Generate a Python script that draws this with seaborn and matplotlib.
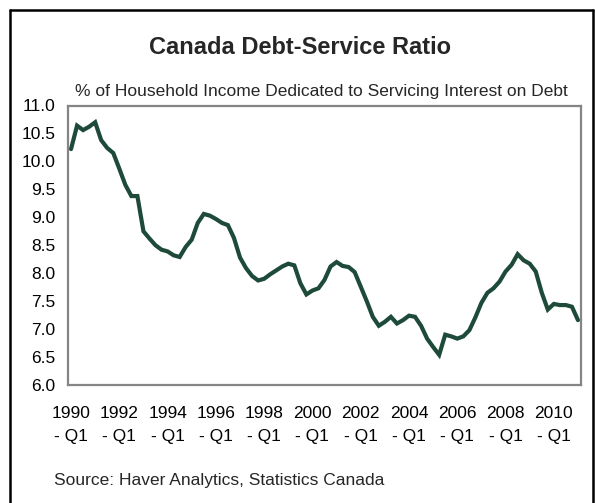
import numpy as np
import pandas as pd
import matplotlib
matplotlib.use("Agg")
import matplotlib.pyplot as plt
import seaborn as sns
from matplotlib.lines import Line2D

# ---- data -------------------------------------------------------------
years = list(range(1990, 2012))
quarters = [f"{y} Q{q}" for y in years for q in (1, 2, 3, 4)][:85]

dsr = [10.22, 10.64, 10.56, 10.62, 10.70, 10.38, 10.24, 10.15, 9.87, 9.58,
       9.38, 9.38, 8.75, 8.62, 8.50, 8.42, 8.39, 8.32, 8.29, 8.47,
       8.60, 8.90, 9.06, 9.03, 8.97, 8.90, 8.86, 8.63, 8.28, 8.09,
       7.95, 7.87, 7.90, 7.98, 8.05, 8.12, 8.17, 8.14, 7.82, 7.62,
       7.69, 7.73, 7.88, 8.12, 8.20, 8.13, 8.11, 8.02, 7.76, 7.50,
       7.22, 7.06, 7.13, 7.22, 7.10, 7.16, 7.24, 7.22, 7.06, 6.83,
       6.68, 6.54, 6.90, 6.87, 6.83, 6.87, 6.98, 7.21, 7.47, 7.65,
       7.73, 7.85, 8.03, 8.15, 8.34, 8.23, 8.17, 8.03, 7.65, 7.35,
       7.45, 7.43, 7.43, 7.40, 7.16]

tick_years = [1990, 1992, 1994, 1996, 1998, 2000, 2002, 2004, 2006, 2008, 2010]
tick_labels = [f"{y}\n- Q1" for y in tick_years]
y_ticks = [6.0, 6.5, 7.0, 7.5, 8.0, 8.5, 9.0, 9.5, 10.0, 10.5, 11.0]

title = "Canada Debt-Service Ratio"
subtitle = "% of Household Income Dedicated to Servicing Interest on Debt"
source = "Source: Haver Analytics, Statistics Canada"

# ---- style ------------------------------------------------------------
sns.set_style("white")
plt.rcParams['font.family'] = ['Liberation Sans', 'DejaVu Sans']

W_PX, H_PX = 595, 503
fig = plt.figure(figsize=(W_PX / 100, H_PX / 100), dpi=100)
fig.patch.set_facecolor("white")

left, right, top, bottom = 68, 581, 105.5, 385
ax = fig.add_axes([left / W_PX, 1 - bottom / H_PX,
                   (right - left) / W_PX, (bottom - top) / H_PX])

df = pd.DataFrame({"quarter": quarters, "idx": range(len(dsr)), "dsr": dsr})
sns.lineplot(data=df, x="idx", y="dsr", ax=ax, color="#1E4A3A",
             linewidth=3.0, solid_joinstyle="miter")

ax.set_xlim(-0.5, len(dsr) - 0.5)
ax.set_ylim(6.0, 11.0)
ax.tick_params(axis="both", length=0, labelsize=12.5, colors="black")
ax.tick_params(axis="x", pad=15)
ax.tick_params(axis="y", pad=9)
ax.set_yticks(y_ticks)
ax.set_yticklabels([f"{v:.1f}" for v in y_ticks], fontsize=12.5)
ax.set_xticks([quarters.index(f"{y} Q1") for y in tick_years])
ax.set_xticklabels(tick_labels, fontsize=12.5, linespacing=1.65)
ax.set_xlabel("")
ax.set_ylabel("")
ax.grid(False)
for s in ax.spines.values():
    s.set_color("#858585")
    s.set_linewidth(1.6)

fig.text(300 / W_PX, 1 - 47 / H_PX, title, ha="center", va="center",
         fontsize=17, fontweight="bold")
fig.text(321 / W_PX, 1 - 91.5 / H_PX, subtitle, ha="center", va="center",
         fontsize=12.5)
fig.text(54 / W_PX, 1 - 480 / H_PX, source, ha="left", va="center",
         fontsize=12.5)

# outer black frame (left, top, right)
bx0, bx1, by0 = 10 / W_PX, 593 / W_PX, 1 - 10 / H_PX
for xs, ys in [([bx0, bx0], [0, by0]), ([bx0, bx1], [by0, by0]),
               ([bx1, bx1], [by0, 0])]:
    fig.add_artist(Line2D(xs, ys, transform=fig.transFigure,
                          color="black", linewidth=1.8))

fig.savefig("out.png", dpi=100, facecolor="white")
